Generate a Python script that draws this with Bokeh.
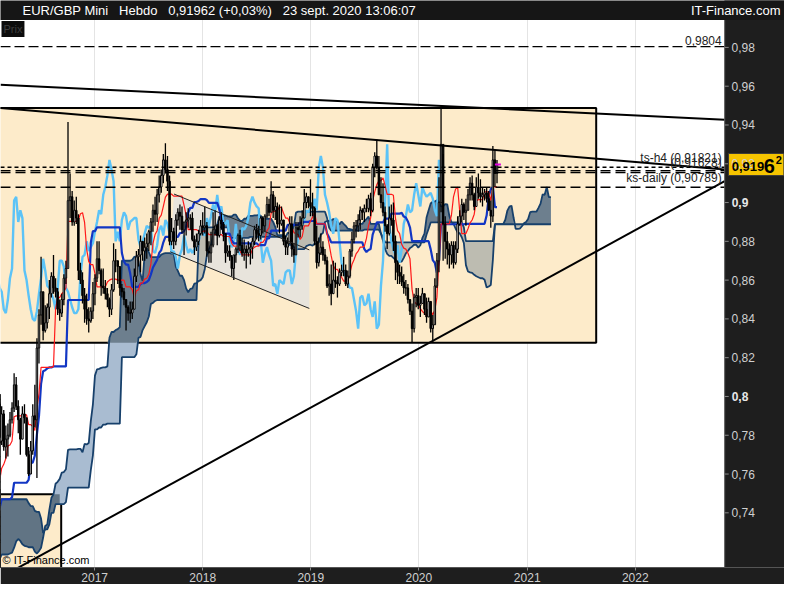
import numpy as np
import pandas as pd
from bokeh.plotting import figure
from bokeh.models import (Range1d, FixedTicker, CustomJSTickFormatter, DatetimeTickFormatter,
                          Label, ColumnDataSource)
from bokeh.embed import file_html
from bokeh.resources import INLINE

# weekly EUR/GBP bars, first week starting Monday 2014-08-04
first_week = "2014-08-04"
week_high = [
    .8000, .8035, .8020, .7990, .7970, .8000, .7970, .7850, .7900, .7920, .7950, .7940, .7910,
    .7860, .7980, .8000, .8000, .7960, .7930, .7930, .7880, .7860,
    # 2015
    .7870, .7800, .7650, .7550, .7560, .7480, .7420, .7370, .7320, .7250, .7310, .7390, .7360,
    .7330, .7240, .7240, .7420, .7440, .7310, .7250, .7180, .7380, .7370, .7280, .7220, .7140,
    .7170, .7110, .7070, .7110, .7090, .7180, .7320, .7420, .7350, .7340, .7400, .7390, .7440,
    .7430, .7480, .7390, .7230, .7190, .7110, .7110, .7080, .7290, .7290, .7290, .7350, .7400,
    # 2016
    .7470, .7580, .7690, .7680, .7740, .7860, .7820, .7950, .7930, .7850, .7860, .7920, .7970,
    .8120, .8100, .7980, .7890, .7950, .7960, .7880, .7740, .7770, .7960, .8060, .8300, .8450,
    .8720, .8510, .8470, .8480, .8600, .8640, .8730, .8610, .8560, .8500, .8530, .8630, .8700,
    .9415, .9150, .9060, .9010, .9030, .8940, .8690, .8640, .8560, .8530, .8460, .8460, .8590,
    # 2017
    .8630, .8800, .8800, .8660, .8660, .8600, .8560, .8510, .8580, .8790, .8760, .8680, .8670,
    .8580, .8560, .8500, .8470, .8490, .8490, .8660, .8750, .8760, .8830, .8800, .8820, .8840,
    .8860, .8920, .8990, .9030, .9070, .9140, .9170, .9250, .9306, .9240, .9140, .8920, .8870,
    .8940, .8970, .8990, .8980, .8900, .8950, .8970, .8940, .8950, .8830, .8840, .8860, .8910,
    # 2018
    .8950, .8980, .8900, .8800, .8850, .8950, .8960, .8890, .8930, .8950, .8900, .8790, .8780,
    .8780, .8730, .8730, .8770, .8840, .8860, .8820, .8810, .8780, .8800, .8790, .8820, .8880,
    .8890, .8880, .8930, .8930, .8940, .9030, .9020, .9110, .9060, .9030, .9000, .8990, .8980,
    .8900, .8830, .8820, .8930, .8930, .8790, .8900, .8900, .8930, .8960, .9070, .9050, .9030, .9120,
    # 2019
    .9050, .8980, .8880, .8820, .8840, .8800, .8760, .8720, .8630, .8680, .8700, .8690,
    .8620, .8660, .8680, .8720, .8680, .8650, .8760, .8850, .8900, .8910, .8940, .8980, .8970,
    .8990, .9020, .9040, .9050, .9200, .9260, .9325, .9240, .9130, .9100, .8980, .8890, .8980, .8990,
    .9000, .8830, .8700, .8680, .8670, .8630, .8600, .8580, .8500, .8480, .8530, .8560, .8560,
    # 2020
    .8520, .8560, .8530, .8510, .8510, .8490, .8420, .8610, .8740, .9130, .9499, .9250, .8930,
    .8850, .8790, .8800, .8800, .8800, .8930, .8960, .9020, .9000, .9020, .9070, .9130, .9140,
    .9050, .9130, .9150, .9120, .9080, .9070, .9080, .9060, .9010, .9292, .9270, .9220,
]
week_low = [
    .7930, .7960, .7955, .7920, .7880, .7920, .7830, .7765, .7770, .7840, .7855, .7880, .7810,
    .7770, .7800, .7930, .7920, .7860, .7860, .7840, .7800, .7760,
    # 2015
    .7720, .7600, .7400, .7400, .7420, .7370, .7340, .7250, .7210, .7050, .7020, .7190, .7240,
    .7200, .7120, .7110, .7180, .7170, .7180, .7060, .7080, .7140, .7220, .7150, .7060, .7000,
    .7030, .6960, .6940, .7010, .6960, .7060, .7110, .7240, .7250, .7220, .7240, .7270, .7360,
    .7330, .7350, .7160, .7120, .7050, .7020, .7010, .6990, .7020, .7190, .7200, .7270, .7310,
    # 2016
    .7350, .7410, .7540, .7550, .7570, .7670, .7720, .7750, .7720, .7680, .7690, .7790, .7860,
    .7920, .7930, .7810, .7700, .7780, .7860, .7690, .7590, .7600, .7700, .7840, .7580, .8170,
    .8370, .8290, .8330, .8350, .8400, .8510, .8530, .8510, .8420, .8390, .8410, .8470, .8580,
    .8700, .8920, .8880, .8880, .8890, .8600, .8580, .8480, .8380, .8370, .8330, .8380, .8400,
    # 2017
    .8470, .8590, .8630, .8520, .8530, .8500, .8460, .8410, .8420, .8540, .8640, .8580, .8520,
    .8510, .8470, .8340, .8390, .8380, .8400, .8450, .8590, .8670, .8640, .8700, .8700, .8710,
    .8750, .8780, .8850, .8880, .8900, .9000, .9050, .9100, .9150, .9060, .8780, .8780, .8760,
    .8780, .8880, .8860, .8840, .8730, .8830, .8870, .8860, .8800, .8730, .8750, .8780, .8830,
    # 2018
    .8830, .8840, .8720, .8690, .8690, .8770, .8830, .8780, .8820, .8860, .8800, .8690, .8720,
    .8700, .8620, .8600, .8690, .8740, .8750, .8720, .8700, .8660, .8720, .8680, .8710, .8780,
    .8810, .8800, .8810, .8840, .8850, .8920, .8930, .8950, .8920, .8910, .8870, .8840, .8880,
    .8780, .8730, .8730, .8790, .8720, .8690, .8730, .8820, .8820, .8860, .8930, .8970, .8970, .8930,
    # 2019
    .8930, .8780, .8660, .8670, .8730, .8700, .8680, .8560, .8520, .8470, .8530, .8560,
    .8510, .8570, .8620, .8620, .8570, .8560, .8610, .8720, .8790, .8820, .8850, .8860, .8910,
    .8900, .8950, .8950, .8930, .8950, .9130, .9170, .9040, .8970, .8930, .8850, .8760, .8830, .8880,
    .8750, .8600, .8580, .8580, .8570, .8530, .8520, .8480, .8420, .8277, .8330, .8460, .8450,
    # 2020
    .8410, .8480, .8420, .8380, .8410, .8330, .8282, .8370, .8560, .8640, .8950, .8700, .8710,
    .8680, .8660, .8680, .8660, .8680, .8740, .8880, .8900, .8910, .8880, .8960, .9010, .9010,
    .8960, .8980, .9020, .9000, .8980, .9010, .9000, .8960, .8870, .8900, .9080, .9100,
]
week_close = [
    .7965, .8010, .7985, .7945, .7920, .7960, .7830, .7790, .7880, .7870, .7920, .7890, .7820,
    .7800, .7960, .7950, .7945, .7900, .7900, .7870, .7830, .7790,
    # 2015
    .7760, .7640, .7480, .7520, .7440, .7390, .7360, .7270, .7230, .7100, .7190, .7310, .7280,
    .7230, .7150, .7190, .7390, .7220, .7240, .7090, .7160, .7330, .7260, .7190, .7100, .7050,
    .7100, .6970, .7050, .7040, .7070, .7150, .7300, .7300, .7270, .7330, .7320, .7370, .7380,
    .7410, .7380, .7180, .7180, .7080, .7070, .7030, .7040, .7250, .7260, .7290, .7330, .7380,
    # 2016
    .7450, .7560, .7630, .7600, .7690, .7760, .7770, .7910, .7740, .7780, .7800, .7880, .7940,
    .8060, .7950, .7880, .7780, .7910, .7890, .7700, .7600, .7720, .7900, .7880, .8250, .8420,
    .8540, .8340, .8380, .8460, .8530, .8620, .8560, .8540, .8450, .8430, .8500, .8610, .8660,
    .9010, .9030, .8900, .8960, .8920, .8650, .8600, .8520, .8450, .8400, .8390, .8440, .8530,
    # 2017
    .8610, .8710, .8650, .8570, .8560, .8530, .8500, .8450, .8550, .8700, .8700, .8670, .8560,
    .8540, .8500, .8460, .8430, .8430, .8450, .8620, .8720, .8730, .8800, .8750, .8770, .8790,
    .8850, .8900, .8960, .8940, .9040, .9080, .9140, .9220, .9170, .9110, .8800, .8850, .8800,
    .8910, .8950, .8930, .8860, .8900, .8910, .8920, .8920, .8810, .8770, .8800, .8840, .8880,
    # 2018
    .8870, .8880, .8750, .8740, .8780, .8860, .8880, .8830, .8910, .8890, .8840, .8740, .8750,
    .8720, .8660, .8730, .8760, .8830, .8780, .8740, .8760, .8740, .8760, .8770, .8800, .8860,
    .8840, .8830, .8920, .8880, .8930, .8990, .8950, .9040, .8960, .8980, .8890, .8890, .8910,
    .8800, .8770, .8790, .8890, .8760, .8730, .8870, .8860, .8880, .8920, .9000, .9030, .9000, .8980,
    # 2019
    .8970, .8800, .8690, .8740, .8770, .8730, .8700, .8570, .8580, .8530, .8600, .8590,
    .8580, .8640, .8650, .8650, .8580, .8620, .8750, .8810, .8880, .8880, .8910, .8960, .8950,
    .8970, .8970, .9020, .8960, .9180, .9240, .9180, .9040, .9000, .8950, .8880, .8840, .8920, .8910,
    .8800, .8690, .8640, .8620, .8590, .8560, .8560, .8500, .8440, .8350, .8510, .8520, .8470,
    # 2020
    .8480, .8530, .8450, .8410, .8490, .8350, .8370, .8570, .8700, .9000, .9300, .8890, .8800,
    .8760, .8730, .8780, .8690, .8760, .8890, .8930, .8990, .8950, .8960, .9040, .9100, .9040,
    .8980, .9080, .9050, .9030, .9040, .9050, .9020, .8960, .8930, .9220, .9150, .9196,
]

# drawn objects (dates, prices)
zone_left = ["2015-06-01", "2015-06-01"]
zone_right = ["2021-08-22", "2016-09-10"]
zone_top = [0.9487, 0.7496]
zone_bottom = [0.8277, 0.6900]

trend_x0 = ["2016-02-18", "2016-02-18", "2016-02-18"]
trend_y0 = [0.9608, 0.9487, 0.7067]
trend_x1 = ["2022-10-30", "2022-10-30", "2022-10-30"]
trend_y1 = [0.9427, 0.9170, 0.9110]

channel_x0 = ["2017-09-26", "2017-09-13"]
channel_y0 = [0.9044, 0.8746]
channel_x1 = ["2018-12-27", "2018-12-27"]
channel_y1 = [0.8756, 0.8454]

level_prices = [0.9804, 0.91821, 0.9165, 0.9155, 0.90789]
level_dashes = ["10 4", "4 3", "10 5", "10 5", "10 5"]

y_ticks = [0.74, 0.76, 0.78, 0.82, 0.84, 0.86, 0.88, 0.92, 0.94, 0.96, 0.98]
bold_ticks = [0.8, 0.9]
year_ticks = ["2017-01-01", "2018-01-01", "2019-01-01", "2020-01-01", "2021-01-01", "2022-01-01"]

last_quote = 0.91962
title_text = "EUR/GBP Mini\u00a0\u00a0\u00a0Hebdo\u00a0\u00a0\u00a00,91962 (+0,03%)\u00a0\u00a0\u00a023 sept. 2020 13:06:07"

# cloud colours: (bullish, bearish) outside the zones, then inside each zone
cloud_out = ("#a9bcd1", "#c3c8cf")
cloud_in = [("#6d7f8e", "#bdbcb1"), ("#617484", "#617484")]

# chart window: price area, then the dark price scale on the right and the header on top
x_start = pd.Timestamp("2016-02-18")
band_start = pd.Timestamp("2022-10-30")
x_stop = pd.Timestamp("2023-05-20")
y_low, y_high, y_top = 0.7118, 0.9941, 1.0042
ms = lambda t: pd.Timestamp(t).value / 1e6

# ichimoku (9, 26, 52) on the weekly bars
n = len(week_close)
weeks = pd.date_range(first_week, periods=n + 26, freq="7D")
df = pd.DataFrame({"high": week_high, "low": week_low, "close": week_close}, index=weeks[:n])
df["open"] = df["close"].shift(1).fillna(df["close"])
tenkan = (df.high.rolling(9).max() + df.low.rolling(9).min()) / 2
kijun = (df.high.rolling(26).max() + df.low.rolling(26).min()) / 2
span_a = np.r_[np.full(26, np.nan), ((tenkan + kijun) / 2).to_numpy()]
span_b = np.r_[np.full(26, np.nan), ((df.high.rolling(52).max() + df.low.rolling(52).min()) / 2).to_numpy()]
chikou = df.close.shift(-26)

ok = np.isfinite(span_a) & np.isfinite(span_b)
bull = ok & (span_a >= span_b)
bear = ok & (span_a < span_b)


def widen(mask):
    return ok & (mask | np.r_[mask[1:], False] | np.r_[False, mask[:-1]])


def runs(mask):
    idx = np.flatnonzero(mask)
    if len(idx) == 0:
        return []
    return np.split(idx, np.flatnonzero(np.diff(idx) > 1) + 1)


p = figure(width=784, height=584, x_axis_type="datetime", y_axis_location="right",
           x_range=Range1d(x_start, x_stop), y_range=Range1d(y_low, y_top),
           output_backend="svg", toolbar_location=None, title=None)
p.min_border_left = 0
p.min_border_right = 0
p.min_border_top = 0
p.min_border_bottom = 0
p.background_fill_color = "white"
p.border_fill_color = "#1e1e1e"
p.outline_line_color = None

p.xaxis.ticker = FixedTicker(ticks=[ms(t) for t in year_ticks])
p.xaxis.formatter = DatetimeTickFormatter(years="%Y", months="%Y", days="%Y")
p.xaxis.major_label_text_color = "#d0d0d0"
p.xaxis.major_label_text_font = "Liberation Sans"
p.xaxis.major_label_text_font_size = "12px"
p.xaxis.axis_line_color = "#555555"
p.xaxis.major_tick_line_color = "#888888"
p.xaxis.major_tick_in = 0
p.xaxis.major_tick_out = 3
p.xaxis.major_label_standoff = 2
p.xaxis.minor_tick_line_color = None
p.xgrid.ticker = p.xaxis.ticker
p.xgrid.grid_line_color = "#e4e4e4"
p.ygrid.grid_line_color = None

# price scale labels drawn back into the dark band
p.yaxis.ticker = FixedTicker(ticks=y_ticks)
p.yaxis.formatter = CustomJSTickFormatter(code="return tick.toFixed(2).replace('.', ',');")
p.yaxis.major_label_text_color = "#d0d0d0"
p.yaxis.major_label_text_font = "Liberation Sans"
p.yaxis.major_label_text_font_size = "12px"
p.yaxis.axis_line_color = None
p.yaxis.major_tick_line_color = None
p.yaxis.minor_tick_line_color = None
p.yaxis.major_tick_in = 0
p.yaxis.major_tick_out = 0
p.yaxis.major_label_standoff = -53

# zones and channel
p.quad(left=pd.to_datetime(zone_left), right=pd.to_datetime(zone_right), top=zone_top,
       bottom=zone_bottom, fill_color="#fdebca", line_color="black", line_width=2)
p.patch(x=pd.to_datetime([channel_x0[0], channel_x1[0], channel_x1[1], channel_x0[1]]),
        y=[channel_y0[0], channel_y1[0], channel_y1[1], channel_y0[1]],
        fill_color="#e8e4dc", line_color=None)

# cloud: lighter outside the zones, darker inside them
for k, mask in enumerate([widen(bull), widen(bear)]):
    for r in runs(mask):
        p.varea(x=weeks[r], y1=span_b[r], y2=span_a[r], fill_color=cloud_out[k])
    for zl, zr, zt, zb, colors in zip(zone_left, zone_right, zone_top, zone_bottom, cloud_in):
        inside = mask & (weeks >= pd.Timestamp(zl)) & (weeks <= pd.Timestamp(zr))
        for r in runs(inside):
            p.varea(x=weeks[r], y1=np.clip(span_b[r], zb, zt), y2=np.clip(span_a[r], zb, zt),
                    fill_color=colors[k])
p.line(weeks, span_a, line_color="#17406b", line_width=1.8)
p.line(weeks, span_b, line_color="#17406b", line_width=1.8)

p.line(df.index, chikou, line_color="#5cc3f7", line_width=2.4)
p.line(df.index, kijun, line_color="#1236c4", line_width=2.2)
p.line(df.index, tenkan, line_color="#ff1a1a", line_width=1.2)

# candles
candles = ColumnDataSource(dict(
    x=df.index, high=df.high, low=df.low,
    top=np.maximum(df.open, df.close), bottom=np.minimum(df.open, df.close),
    fill=np.where(df.close >= df.open, "white", "black"),
))
p.segment(x0="x", y0="low", x1="x", y1="high", source=candles, line_color="black", line_width=1.3)
p.vbar(x="x", width=5 * 24 * 3600 * 1000, top="top", bottom="bottom", source=candles,
       fill_color="fill", line_color="black", line_width=1)
p.scatter(x=[df.index[-1] + pd.Timedelta(days=3)], y=[df.close.iloc[-1]], marker="dash",
          size=6, line_color="#e000e0", line_width=2)

# channel borders, trend lines, levels
p.segment(x0=pd.to_datetime(channel_x0), y0=channel_y0, x1=pd.to_datetime(channel_x1),
          y1=channel_y1, line_color="#222222", line_width=1)
p.segment(x0=pd.to_datetime(trend_x0), y0=trend_y0, x1=pd.to_datetime(trend_x1),
          y1=trend_y1, line_color="black", line_width=2)
for price, dash in zip(level_prices, level_dashes):
    p.segment(x0=[x_start], y0=[price], x1=[band_start], y1=[price], line_color="black",
              line_width=1.3, line_dash=dash)

# dark price band, header bar and the last-quote tag
p.quad(left=[band_start], right=[x_stop], bottom=[y_low - 0.01], top=[y_top],
       fill_color="#1e1e1e", line_color="#555555", line_width=1)
p.quad(left=[x_start - pd.Timedelta(days=30)], right=[x_stop], bottom=[y_high], top=[y_top + 0.01],
       fill_color="#161616", line_color=None)
p.ray(x=[band_start] * (len(y_ticks) + 2), y=y_ticks + bold_ticks, length=4,
      length_units="screen", angle=0, line_color="#888888")
p.quad(left=[band_start + pd.Timedelta(days=13)], right=[x_stop - pd.Timedelta(days=2)],
       bottom=[last_quote - 0.0057], top=[last_quote + 0.0057],
       fill_color="#f5c400", line_color="#3a3a3a", line_width=1)


def text(t, x, y, **kw):
    opts = dict(text_font="Liberation Sans", text_font_size="12px", text_color="#222222")
    opts.update(kw)
    p.add_layout(Label(x=ms(x), y=y, text=t, **opts))


text(title_text, x_start, (y_high + y_top) / 2, x_offset=22, text_baseline="middle",
     text_color="white", text_font_size="13px")
text("IT-Finance.com", x_stop, (y_high + y_top) / 2, x_offset=-4, text_align="right",
     text_baseline="middle", text_color="white", text_font_size="13px")
text("0,9804", band_start, 0.9804, x_offset=-3, y_offset=2, text_align="right", text_baseline="bottom")
text("ts-h4 (0,91821)", band_start, 0.91821, x_offset=-3, y_offset=2, text_align="right", text_baseline="bottom")
text("(0,91628)", band_start, 0.9165, x_offset=-3, y_offset=1, text_align="right", text_baseline="bottom")
text("ks-daily (0,90789)", band_start, 0.90789, x_offset=-3, y_offset=2, text_align="right", text_baseline="bottom")
text("\u00a9 IT-Finance.com", x_start, y_low, x_offset=2, y_offset=2, text_baseline="bottom",
     text_font_size="11px", text_color="black")
text("Prix", x_start, y_high, x_offset=1, y_offset=-1, text_baseline="top", text_font_size="11px",
     text_color="#3c3c3c", background_fill_color="#0c0c0c", padding=2)

for t in bold_ticks:
    text(f"{t:.1f}".replace(".", ","), band_start, t, x_offset=7, text_baseline="middle",
         text_color="#e8e8e8", text_font_style="bold")

text("0,919", band_start, last_quote, x_offset=7, y_offset=-2, text_baseline="middle",
     text_color="black", text_font_style="bold", text_font_size="13px")
text("6", band_start, last_quote, x_offset=39, y_offset=-1, text_baseline="middle",
     text_color="black", text_font_style="bold", text_font_size="20px")
text("2", band_start, last_quote, x_offset=51, y_offset=5, text_baseline="middle",
     text_color="black", text_font_style="bold", text_font_size="11px")

open("out.html", "w").write(file_html(p, INLINE))
